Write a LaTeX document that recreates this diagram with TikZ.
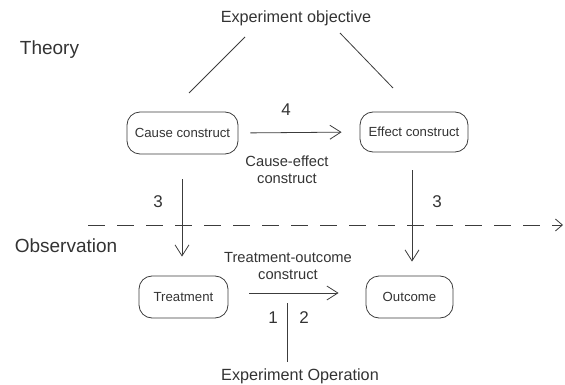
\documentclass[tikz,border=0pt]{standalone}
\usepackage{fontspec}
\setmainfont{Liberation Sans}
\usetikzlibrary{arrows.meta}

\definecolor{ink}{HTML}{333333}
\definecolor{wire}{HTML}{3C3C3C}

\tikzset{
  box/.style={draw=wire, line width=0.8pt, rounded corners=13pt, inner sep=0pt,
              font=\fontsize{13.2}{15}\selectfont, text=ink},
  label/.style={inner sep=0pt, text=ink, align=center},
  head/.style={label, font=\fontsize{16.2}{19}\selectfont},
  level/.style={label, font=\fontsize{19}{22}\selectfont},
  rel/.style={label, font=\fontsize{14.7}{17}\selectfont},
  num/.style={label, font=\fontsize{17}{20}\selectfont},
  link/.style={draw=wire, line width=0.8pt},
  flow/.style={link, -{Straight Barb[length=11pt,width=14pt,line width=0.8pt]}},
}

\begin{document}
\begin{tikzpicture}[x=1pt, y=-1pt]
  \useasboundingbox (0,0) rectangle (565,385);

  % headings and levels
  \node[head]  (objective)   at (296,18)  {Experiment objective};
  \node[head]  (operation)   at (300,376) {Experiment Operation};
  \node[level] (theory)      at (49.5,50) {Theory};
  \node[level] (observation) at (66,246)  {Observation};

  % constructs
  \node[box, minimum width=111pt, minimum height=42pt] (cause)     at (182.5,133) {Cause construct};
  \node[box, minimum width=108pt, minimum height=40pt] (effect)    at (414,132)   {Effect construct};
  \node[box, minimum width=89pt,  minimum height=42pt] (treatment) at (183.5,297) {Treatment};
  \node[box, minimum width=87pt,  minimum height=42pt] (outcome)   at (409.5,297) {Outcome};

  % relation labels and numbers
  \node[rel] (ce) at (287,169.5) {Cause-effect\\construct};
  \node[rel] (to) at (288,266.5) {Treatment-outcome\\construct};
  \node[num] (n4)  at (286,110) {4};
  \node[num] (n3l) at (158,202) {3};
  \node[num] (n3r) at (437,202) {3};
  \node[num] (n1)  at (273,318) {1};
  \node[num] (n2)  at (304,318) {2};

  % free ends of the plain lines
  \coordinate (objL) at (245,37);
  \coordinate (objR) at (340,33);
  \coordinate (toC)  at (189,93);
  \coordinate (toE)  at (393,88);
  \coordinate (opTop) at (287,303);
  \coordinate (opBot) at (287,362);
  \coordinate (splitL) at (88,225);
  \coordinate (splitR) at (563,225);

  % objective to the two constructs
  \draw[link] (objL) -- (toC);
  \draw[link] (objR) -- (toE);

  % boundary between theory and observation
  \draw[link, dash pattern=on 17pt off 12pt,
        -{Straight Barb[length=7pt,width=12pt,line width=0.8pt]}] (splitL) -- (splitR);

  % arrows between constructs
  \draw[flow, shorten <=12pt, shorten >=18pt] (cause.east) -- (effect.west);
  \draw[flow, shorten <=25pt, shorten >=19pt] ([xshift=-0.5pt]cause.south) -- ([xshift=-1.5pt]treatment.north);
  \draw[flow, shorten <=18pt, shorten >=14pt] ([xshift=-2pt]effect.south) -- ([xshift=2.5pt]outcome.north);
  \draw[flow, shorten <=21pt, shorten >=27pt] ([yshift=4pt]treatment.east) -- ([yshift=4pt]outcome.west);

  % operation line
  \draw[link] (opTop) -- (opBot);
\end{tikzpicture}
\end{document}
